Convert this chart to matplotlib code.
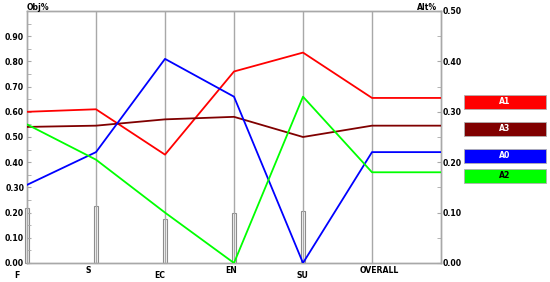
import matplotlib.pyplot as plt
import matplotlib.transforms as mtransforms
from matplotlib.patches import Rectangle

# Data
categories = ["F", "S", "EC", "EN", "SU", "OVERALL"]
a1 = [0.60, 0.61, 0.43, 0.76, 0.835, 0.655]
a3 = [0.54, 0.545, 0.57, 0.58, 0.50, 0.545]
a0 = [0.31, 0.44, 0.81, 0.66, 0.00, 0.44]
a2 = [0.55, 0.41, 0.20, 0.00, 0.66, 0.36]
alt = [0.11, 0.113, 0.087, 0.10, 0.103, 0.0]

series = [("A1", a1, "#ff0000", "white"),
          ("A3", a3, "#800000", "white"),
          ("A0", a0, "#0000ff", "white"),
          ("A2", a2, "#00ff00", "black")]

# label offsets in pixels (dx, dy) - staggered category labels
label_off = [(-10, -5), (-8, 0), (-5, -5), (-3, 0), (-1, -5), (7, 0)]

grid_col = "#a8a8a8"
fs = 5.6

fig = plt.figure(figsize=(5.5, 2.82), dpi=100)
ax = fig.add_axes([27/550, 1-263/282, (441-27)/550, (263-11)/282])
ax2 = ax.twinx()

x = list(range(len(categories)))
xe = x + [len(categories)]

# alternative bars on right axis
bars = ax2.bar(x, alt, width=0.07, color="white", edgecolor="#8c8c8c", linewidth=0.8, zorder=2)
for b in bars:
    b.set_clip_on(False)

# vertical category lines
for xi in x[1:]:
    ax.axvline(xi, color=grid_col, linewidth=1.0, zorder=1)

for name, vals, col, tc in series:
    ax.plot(xe, vals + [vals[-1]], color=col, linewidth=1.3, zorder=3)

ax.set_zorder(ax2.get_zorder() + 1)
ax.patch.set_visible(False)

ax.set_xlim(0, len(categories))
ax.set_ylim(0, 1.0)
ax2.set_ylim(0, 0.5)

for a in (ax, ax2):
    for s in a.spines.values():
        s.set_color(grid_col)
        s.set_linewidth(1.0)

ax.set_yticks([i / 10 for i in range(10)])
ax.set_yticklabels(["%.2f" % (i / 10) for i in range(10)], fontsize=fs, fontweight="bold")
ax.set_yticks([i / 10 + 0.05 for i in range(10)], minor=True)
ax.tick_params(axis="y", which="both", direction="in", color=grid_col, length=3, pad=2)

ax2.set_yticks([i / 10 for i in range(6)])
ax2.set_yticklabels(["%.2f" % (i / 10) for i in range(6)], fontsize=fs, fontweight="bold")
ax2.set_yticks([i / 10 + 0.05 for i in range(5)], minor=True)
ax2.tick_params(axis="y", which="both", direction="in", color=grid_col, length=3, pad=1)

ax.set_xticks(x)
ax.set_xticklabels(categories, fontsize=fs, fontweight="bold")
ax.tick_params(axis="x", length=0, pad=2)
for lab, (dx, dy) in zip(ax.get_xticklabels(), label_off):
    lab.set_transform(lab.get_transform() +
                      mtransforms.ScaledTranslation(dx / 100, dy / 100, fig.dpi_scale_trans))

fig.text(27/550, 1-7/282, "Obj%", fontsize=fs, fontweight="bold", ha="left", va="center")
fig.text(437/550, 1-7/282, "Alt%", fontsize=fs, fontweight="bold", ha="right", va="center")

# legend boxes
box_y = [95, 122, 149, 169]
for (name, vals, col, tc), yt in zip(series, box_y):
    fig.patches.append(Rectangle((464/550, 1-(yt+14)/282), 82/550, 14/282,
                                 transform=fig.transFigure, facecolor=col,
                                 edgecolor="#b0b0b0", linewidth=0.6))
    fig.text(505/550, 1-(yt+7)/282, name, color=tc, fontsize=fs, fontweight="bold",
             ha="center", va="center")

fig.savefig("out.png", dpi=100)
